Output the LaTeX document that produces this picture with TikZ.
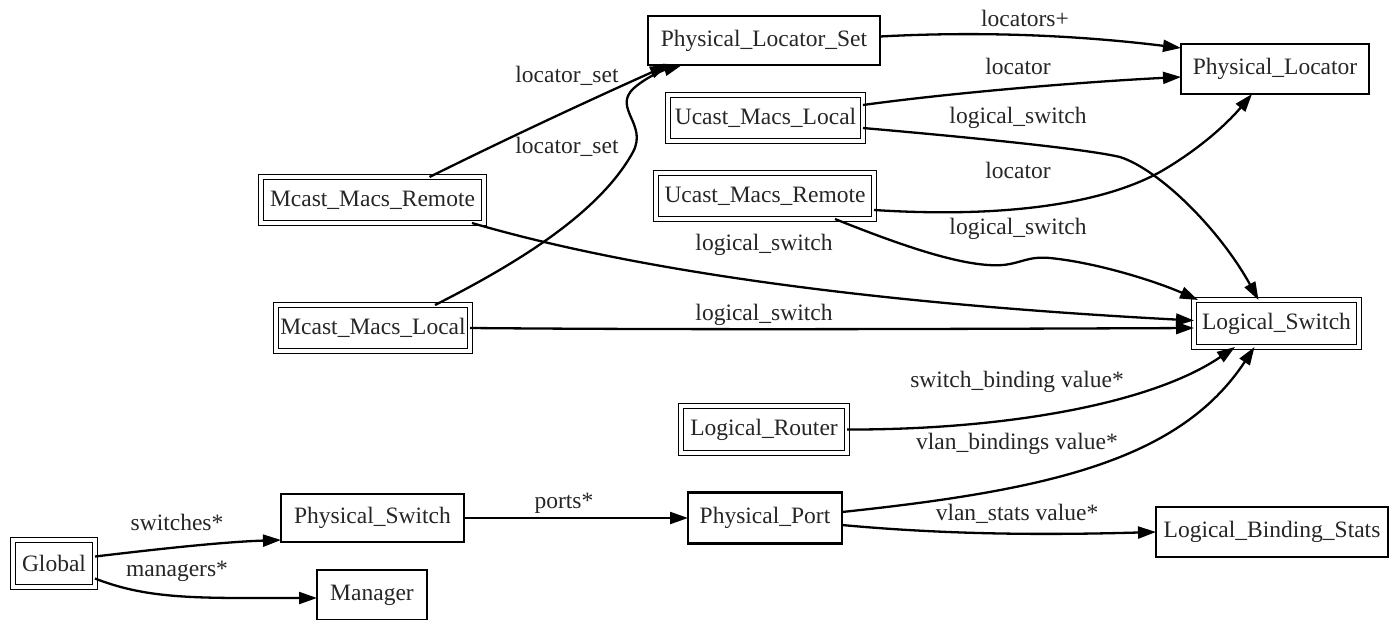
\documentclass[tikz,border=0pt]{standalone}
\usepackage{fontspec}
\setmainfont{Liberation Serif}
\usetikzlibrary{arrows.meta}
\begin{document}
\begin{tikzpicture}[x=1pt,y=-1pt,
  txt/.style={font=\fontsize{23.5}{28}\selectfont, text=black!85},
  lbl/.style={txt, inner sep=0pt},
  solidbox/.style={txt, draw=black, line width=2.8pt, inner sep=0pt, outer sep=0pt},
  doublebox/.style={txt, draw=black, line width=1.8pt, double=white, double distance=3.2pt, inner sep=0pt, outer sep=0pt},
  edge/.style={draw=black, line width=2.3pt, -{Triangle[length=18pt,width=12pt]}}]

\path[use as bounding box, fill=white] (0,0) rectangle (1391,619);

% tables
\node[solidbox, minimum width=232pt, minimum height=49pt] (PLS) at (764,40.5) {Physical\_Locator\_Set};
\node[solidbox, minimum width=188pt, minimum height=50pt] (PL) at (1275,69) {Physical\_Locator};
\node[doublebox, minimum width=195pt, minimum height=46pt] (UML) at (765.5,118) {Ucast\_Macs\_Local};
\node[doublebox, minimum width=218pt, minimum height=46pt] (UMR) at (765,196) {Ucast\_Macs\_Remote};
\node[doublebox, minimum width=223pt, minimum height=46pt] (MMR) at (372.5,200) {Mcast\_Macs\_Remote};
\node[doublebox, minimum width=194pt, minimum height=46pt] (MML) at (373,328) {Mcast\_Macs\_Local};
\node[doublebox, minimum width=165pt, minimum height=47pt] (LS) at (1276.5,323.5) {Logical\_Switch};
\node[doublebox, minimum width=166pt, minimum height=47pt] (LR) at (764,429.5) {Logical\_Router};
\node[solidbox, minimum width=154pt, minimum height=51pt] (PP) at (765,518) {Physical\_Port};
\node[solidbox, minimum width=232pt, minimum height=50pt] (LBS) at (1272,532) {Logical\_Binding\_Stats};
\node[solidbox, minimum width=183pt, minimum height=48pt] (PSw) at (372.5,518) {Physical\_Switch};
\node[doublebox, minimum width=82pt, minimum height=47pt] (G) at (54,563.5) {Global};
\node[solidbox, minimum width=110pt, minimum height=50pt] (Mgr) at (372,595) {Manager};

% references between tables
\draw[edge] ([yshift=4pt]PLS.east) .. controls (1000,30) and (1100,38) .. ([yshift=21pt]PL.west);
\draw[edge] ([yshift=13pt]UML.east) .. controls (950,93) and (1080,82) .. ([yshift=-8pt]PL.west);
\draw[edge] ([yshift=-10pt]UML.east) .. controls (1000,140) and (1090,150) .. (1120,157)
  .. controls (1160,170) and (1220,230) .. ([xshift=-18pt]LS.north);
\draw[edge] ([yshift=-14pt]UMR.east) .. controls (1000,218) and (1100,205) .. (1160,172)
  .. controls (1205,146) and (1232,118) .. ([xshift=-23pt]PL.south);
\draw[edge] ([xshift=70pt]UMR.south) .. controls (900,245) and (965,268) .. (1003,265)
  .. controls (1022,263) and (1028,256) .. (1050,258)
  .. controls (1100,263) and (1160,283) .. ([xshift=4pt]LS.north west);
\draw[edge] ([xshift=57pt]MMR.north) .. controls (510,137) and (590,100) .. ([xshift=20pt]PLS.south west);
\draw[edge] ([xshift=62pt]MML.north) .. controls (520,262) and (600,212) .. (633,152)
  .. controls (648,124) and (612,108) .. (634,88)
  .. controls (648,76) and (664,70) .. ([xshift=34pt]PLS.south west);
\draw[edge] ([xshift=-12pt]MMR.south east) .. controls (650,275) and (900,305) .. ([yshift=3pt]LS.west);
\draw[edge] (MML.east) .. controls (700,330) and (950,329) .. ([yshift=-4.5pt]LS.west);
\draw[edge] (LR.east) .. controls (1000,430) and (1150,405) .. ([xshift=-41.5pt]LS.south);
\draw[edge] ([yshift=6pt]PP.east) .. controls (1050,490) and (1180,460) .. ([xshift=-22pt]LS.south);
\draw[edge] ([yshift=-7pt]PP.east) .. controls (950,535) and (1050,535) .. (LBS.west);
\draw[edge] (PSw.east) -- (PP.west);
\draw[edge] ([yshift=7pt]G.east) .. controls (150,550) and (220,542) .. ([yshift=-22pt]PSw.west);
\draw[edge] ([yshift=-15pt]G.east) .. controls (150,600) and (200,598) .. ([yshift=-3pt]Mgr.west);

% column names
\node[lbl] (l1) at (1025,18) {locators+};
\node[lbl] (l2) at (1018,66) {locator};
\node[lbl] (l3) at (1018,118) {logical\_switch};
\node[lbl] (l4) at (1018,170) {locator};
\node[lbl] (l5) at (1018,229) {logical\_switch};
\node[lbl] (l6) at (567,76) {locator\_set};
\node[lbl] (l7) at (567,147) {locator\_set};
\node[lbl] (l8) at (764,245) {logical\_switch};
\node[lbl] (l9) at (764,315) {logical\_switch};
\node[lbl] (l10) at (1017,382) {switch\_binding value*};
\node[lbl] (l11) at (1017,444) {vlan\_bindings value*};
\node[lbl] (l12) at (1017,514) {vlan\_stats value*};
\node[lbl] (l13) at (564,503) {ports*};
\node[lbl] (l14) at (177,522) {switches*};
\node[lbl] (l15) at (177,571) {managers*};
\end{tikzpicture}
\end{document}
